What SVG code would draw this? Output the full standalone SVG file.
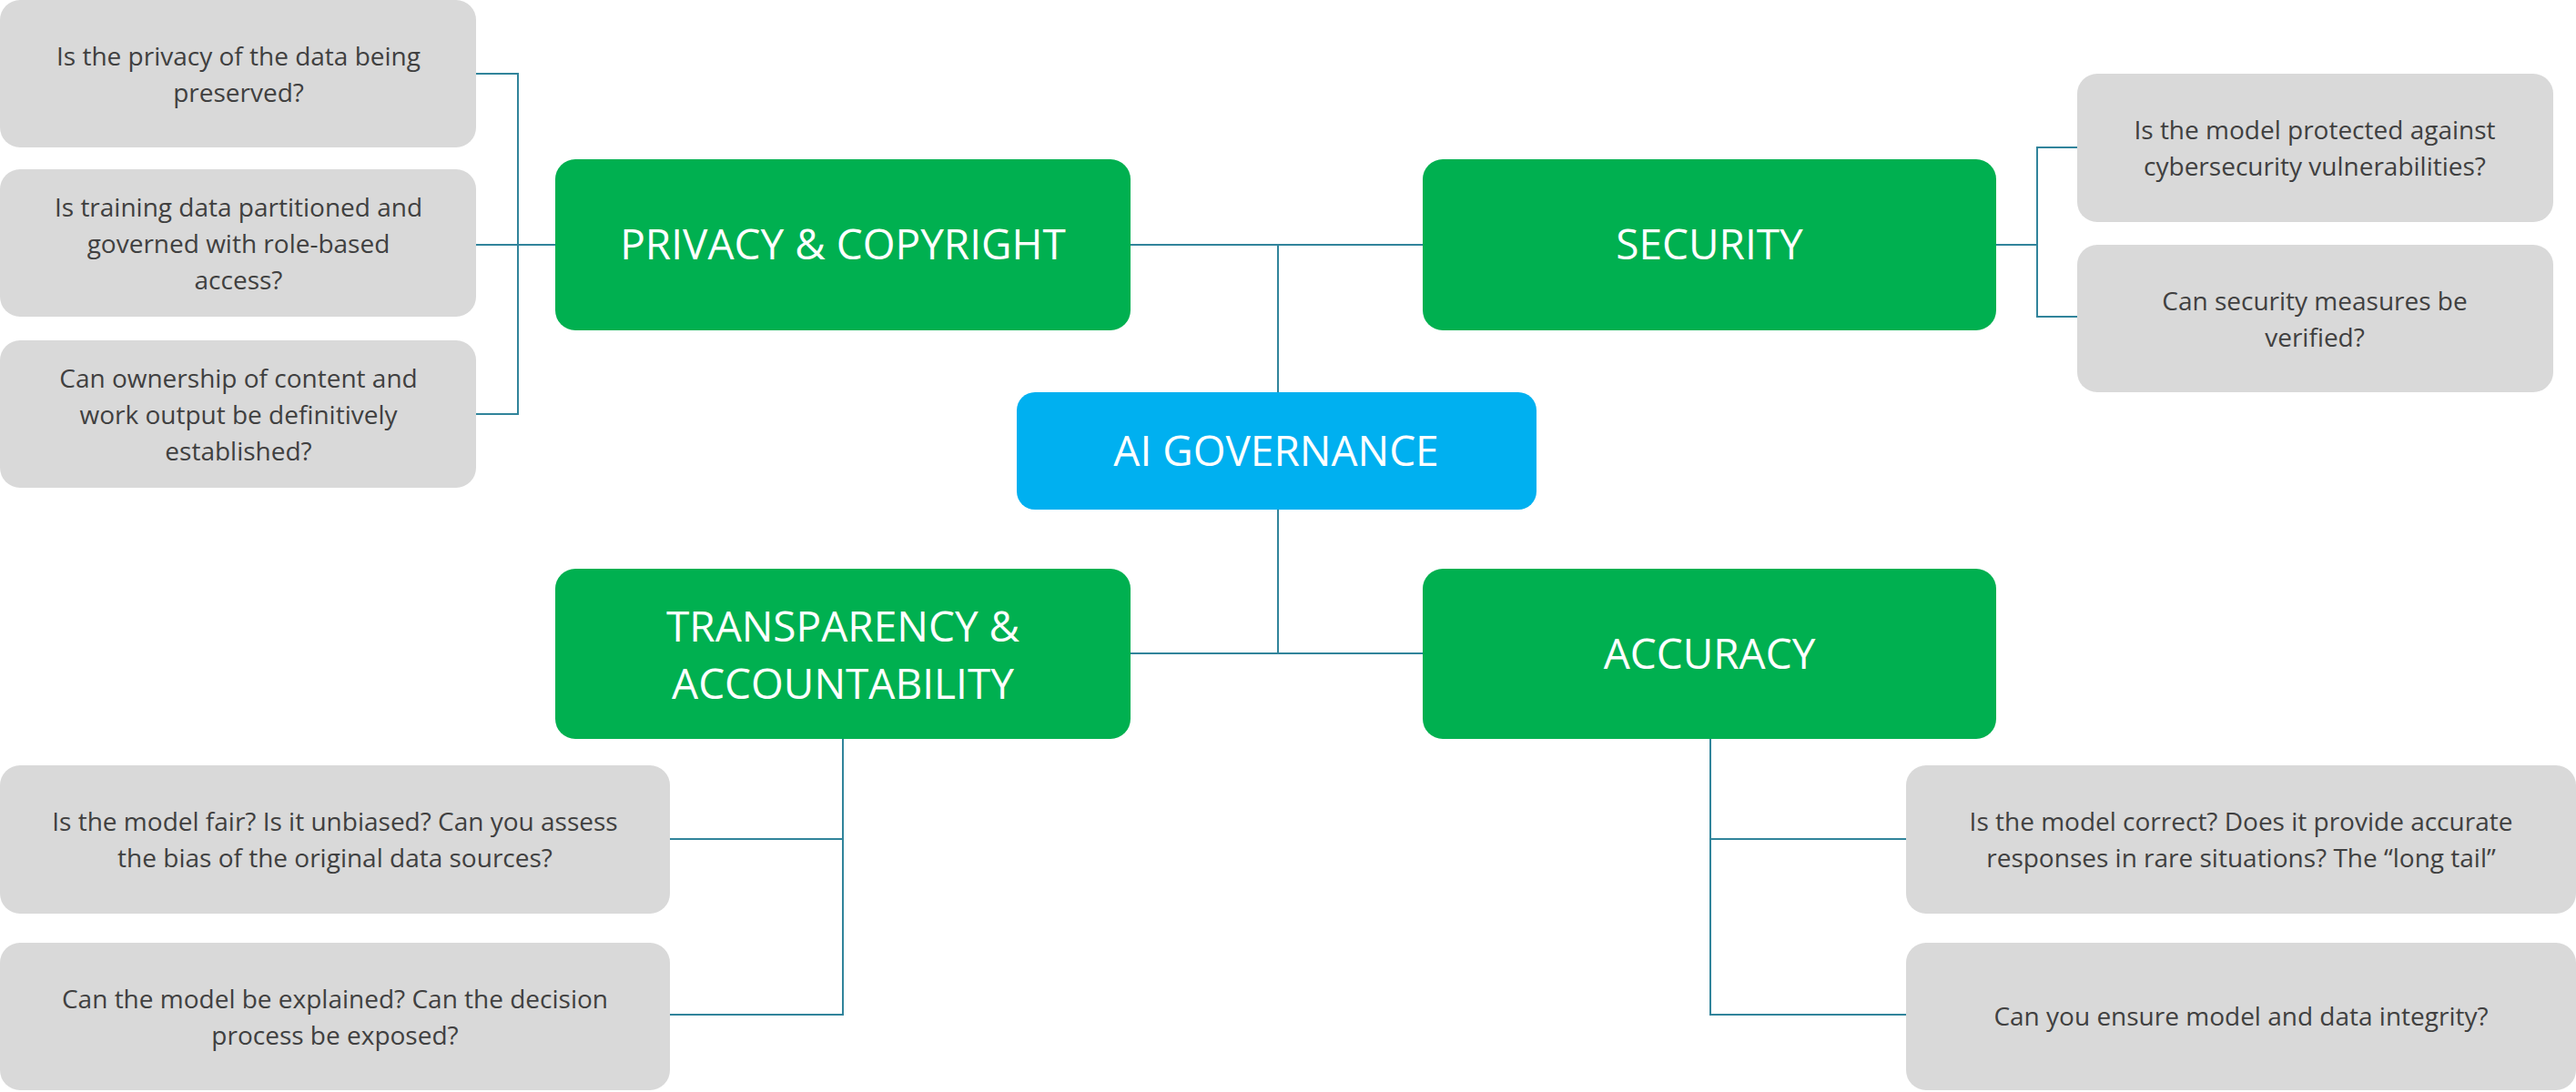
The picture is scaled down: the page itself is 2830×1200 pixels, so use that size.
<svg xmlns="http://www.w3.org/2000/svg" width="2830" height="1200" viewBox="0 0 2830 1200">
<style>
.q{fill:#d9d9d9}
.g{fill:#00b050}
.b{fill:#00b0f0}
.qt{font-family:"Open Sans","Liberation Sans",sans-serif;font-size:28px;fill:#404040;text-anchor:middle}
.gt{font-family:"Open Sans","Liberation Sans",sans-serif;font-size:46px;fill:#fff;text-anchor:middle}
.c{fill:none;stroke:#31849b;stroke-width:2}
</style>
<rect width="2830" height="1200" fill="#fff"/>
<g id="connectors" class="c">
<path d="M523 81H569V455H523M523 269H610"/>
<path d="M1242 269H1563M1404 269V431M1404 560V718M1242 718H1563"/>
<path d="M2193 269H2238M2282 162H2238V348H2282"/>
<path d="M926 812V1115H736M736 922H926"/>
<path d="M1879 812V1115H2094M1879 922H2094"/>
</g>
<g id="q1"><rect class="q" x="0" y="0" width="523" height="162" rx="22"/><text class="qt" x="262" y="72">Is the privacy of the data being</text><text class="qt" x="262" y="112">preserved?</text></g>
<g id="q2"><rect class="q" x="0" y="186" width="523" height="162" rx="22"/><text class="qt" x="262" y="238">Is training data partitioned and</text><text class="qt" x="262" y="278">governed with role-based</text><text class="qt" x="262" y="318">access?</text></g>
<g id="q3"><rect class="q" x="0" y="374" width="523" height="162" rx="22"/><text class="qt" x="262" y="426">Can ownership of content and</text><text class="qt" x="262" y="466">work output be definitively</text><text class="qt" x="262" y="506">established?</text></g>
<g id="privacy"><rect class="g" x="610" y="175" width="632" height="188" rx="22"/><text class="gt" x="926" y="285">PRIVACY &amp; COPYRIGHT</text></g>
<g id="security"><rect class="g" x="1563" y="175" width="630" height="188" rx="22"/><text class="gt" x="1878" y="285">SECURITY</text></g>
<g id="q4"><rect class="q" x="2282" y="81" width="523" height="163" rx="22"/><text class="qt" x="2543" y="153">Is the model protected against</text><text class="qt" x="2543" y="193">cybersecurity vulnerabilities?</text></g>
<g id="q5"><rect class="q" x="2282" y="269" width="523" height="162" rx="22"/><text class="qt" x="2543" y="341">Can security measures be</text><text class="qt" x="2543" y="381">verified?</text></g>
<g id="ai"><rect class="b" x="1117" y="431" width="571" height="129" rx="20"/><text class="gt" x="1402" y="512">AI GOVERNANCE</text></g>
<g id="transparency"><rect class="g" x="610" y="625" width="632" height="187" rx="22"/><text class="gt" x="926" y="705">TRANSPARENCY &amp;</text><text class="gt" x="926" y="768">ACCOUNTABILITY</text></g>
<g id="accuracy"><rect class="g" x="1563" y="625" width="630" height="187" rx="22"/><text class="gt" x="1878" y="735">ACCURACY</text></g>
<g id="q6"><rect class="q" x="0" y="841" width="736" height="163" rx="22"/><text class="qt" x="368" y="913">Is the model fair? Is it unbiased? Can you assess</text><text class="qt" x="368" y="953">the bias of the original data sources?</text></g>
<g id="q7"><rect class="q" x="0" y="1036" width="736" height="162" rx="22"/><text class="qt" x="368" y="1108">Can the model be explained? Can the decision</text><text class="qt" x="368" y="1148">process be exposed?</text></g>
<g id="q8"><rect class="q" x="2094" y="841" width="736" height="163" rx="22"/><text class="qt" x="2462" y="913">Is the model correct? Does it provide accurate</text><text class="qt" x="2462" y="953">responses in rare situations? The “long tail”</text></g>
<g id="q9"><rect class="q" x="2094" y="1036" width="736" height="162" rx="22"/><text class="qt" x="2462" y="1127">Can you ensure model and data integrity?</text></g>
</svg>
